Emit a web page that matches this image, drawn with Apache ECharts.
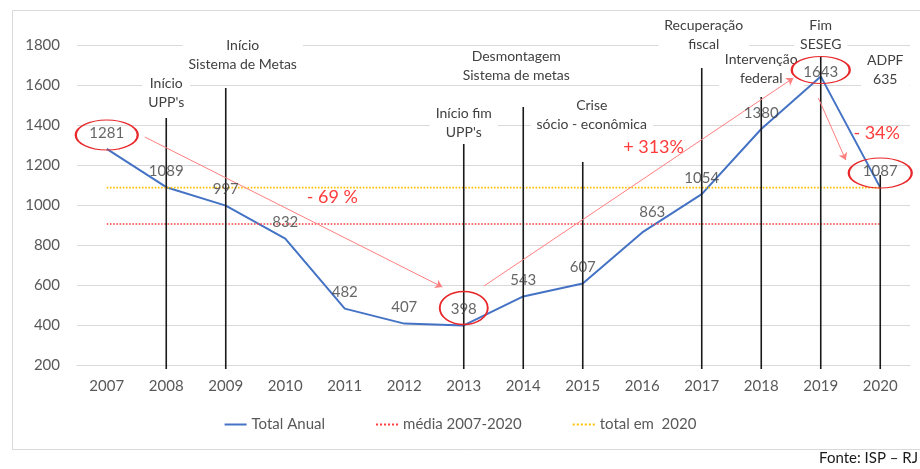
<!DOCTYPE html>
<html>
<head>
<meta charset="utf-8">
<script src="https://cdn.jsdelivr.net/npm/echarts@6/dist/echarts.min.js"></script>
<style>
  html, body { margin: 0; padding: 0; background: #fff; }
  #chart { width: 920px; height: 469px; }
</style>
</head>
<body>
<div id="chart"></div>
<script>
// dados
var anos = ['2007', '2008', '2009', '2010', '2011', '2012', '2013', '2014', '2015', '2016', '2017', '2018', '2019', '2020'];
var totalAnual = [1281, 1089, 997, 832, 482, 407, 398, 543, 607, 863, 1054, 1380, 1643, 1087];
var mediaPeriodo = 905;
var totalEm2020 = 1087;

// marcos (linhas verticais): ano, topo da linha, base do texto
var eventoAnos = ['2008', '2009', '2013', '2014', '2015', '2017', '2018', '2019', '2020'];
var eventoTopo = [1435, 1585, 1305, 1490, 1215, 1685, 1540, 1740, 1150];
var eventoTextoBase = [1465, 1655, 1315, 1600, 1355, 1755, 1585, 1755, 1580];
var eventoTextos = ["Início\nUPP's", 'Início\nSistema de Metas', "Início fim\nUPP's", 'Desmontagem\nSistema de metas',
  'Crise\nsócio - econômica', 'Recuperação\nfiscal', 'Intervenção\nfederal', 'Fim\nSESEG', 'ADPF\n635'];

// destaques em vermelho: elipses, setas e variações (x = índice do ano)
var elipses = [[0, 1350], [6, 485], [12, 1675], [13, 1160]];
var setas = [[[0.64, 1340], [5.64, 590]], [[6.34, 595], [11.54, 1635]], [[11.96, 1535], [12.42, 1225]]];
var variacoes = ['- 69 %', '+ 313%', '- 34%'];
var variacaoPos = [[3.79, 1040], [9.19, 1290], [12.94, 1360]];

var fonte = 'Lato, "Open Sans", sans-serif';
var elipseTam = [[62, 30], [48, 33], [58, 27], [63, 30]];
var eventoDx = [0, 17, 0, -7, 9, 2, 0, 0, 5];
var labelAjuste = { 9: [10, -4], 12: [0, 12] };

var chart = echarts.init(document.getElementById('chart'));

// rótulos dos valores (série só de texto)
var rotulos = totalAnual.map(function (v, i) {
  var item = { value: v };
  if (labelAjuste[i]) item.label = { offset: labelAjuste[i] };
  return item;
});

function renderEvento(params, api) {
  var i = params.dataIndex;
  var x = api.value(0);
  var topo = api.coord([x, api.value(1)]);
  var base = api.coord([x, 200]);
  var txt = api.coord([x, api.value(2)]);
  return {
    type: 'group',
    children: [
      {
        type: 'line',
        shape: { x1: topo[0], y1: topo[1], x2: base[0], y2: base[1] + 4 },
        style: { stroke: '#1a1a1a', lineWidth: 1.6 }
      },
      {
        type: 'text',
        x: txt[0] + eventoDx[i],
        y: txt[1],
        style: {
          text: eventoTextos[i],
          align: 'center',
          verticalAlign: 'bottom',
          fill: '#404040',
          font: '14px ' + fonte,
          lineHeight: 19,
          backgroundColor: '#fff',
          padding: [0, 6, 0, 6]
        }
      }
    ]
  };
}

chart.setOption({
  animation: false,
  grid: { left: 77, right: 10, top: 45, bottom: 104 },
  graphic: [
    {
      type: 'rect', left: 10, top: 8, z: -10,
      shape: { width: 915, height: 439 },
      style: { fill: 'none', stroke: '#d9d9d9', lineWidth: 1 }
    },
    {
      type: 'text', right: 2, top: 451,
      style: { text: 'Fonte: ISP – RJ', fill: '#1a1a1a', font: '15px ' + fonte }
    }
  ],
  legend: {
    data: ['Total Anual', 'média 2007-2020', 'total em  2020'],
    top: 412,
    left: 'center',
    itemWidth: 22,
    itemHeight: 12,
    itemGap: 50,
    itemStyle: { opacity: 0 },
    textStyle: { color: '#595959', fontSize: 15, fontFamily: fonte }
  },
  xAxis: [
    {
      type: 'category',
      data: anos,
      axisTick: { show: false },
      axisLine: { lineStyle: { color: '#d9d9d9' } },
      axisLabel: { color: '#595959', fontSize: 15, fontFamily: fonte, margin: 14 }
    },
    { type: 'value', min: -0.5, max: 13.5, show: false }
  ],
  yAxis: {
    type: 'value',
    min: 200,
    max: 1800,
    interval: 200,
    axisLine: { show: false },
    axisTick: { show: false },
    axisLabel: {
      color: '#595959', fontSize: 15, fontFamily: fonte, margin: 17,
      formatter: function (v) { return String(v); }
    },
    splitLine: { lineStyle: { color: '#d9d9d9', width: 1.2 } }
  },
  series: [
    {
      name: 'Total Anual',
      type: 'line',
      data: totalAnual,
      symbol: 'none',
      z: 3,
      lineStyle: { color: '#4472c4', width: 2 },
      itemStyle: { color: '#4472c4' }
    },
    {
      name: 'rotulos',
      type: 'scatter',
      data: rotulos,
      symbolSize: 1,
      z: 5,
      silent: true,
      itemStyle: { color: 'rgba(0,0,0,0)' },
      label: {
        show: true, position: 'top', distance: 8, color: '#404040', fontSize: 15, fontFamily: fonte,
        formatter: function (p) { return String(p.value); }
      }
    },
    {
      name: 'média 2007-2020',
      type: 'line',
      data: anos.map(function () { return mediaPeriodo; }),
      symbol: 'none',
      lineStyle: { color: '#ff3b3b', width: 1.6, type: 'dotted' },
      itemStyle: { color: '#ff3b3b' }
    },
    {
      name: 'total em  2020',
      type: 'line',
      data: anos.map(function () { return totalEm2020; }),
      symbol: 'none',
      lineStyle: { color: '#ffc000', width: 1.6, type: 'dotted' },
      itemStyle: { color: '#ffc000' }
    },
    {
      name: 'marcos',
      type: 'custom',
      z: 4,
      renderItem: renderEvento,
      data: eventoAnos.map(function (a, i) { return [a, eventoTopo[i], eventoTextoBase[i]]; })
    },
    {
      name: 'anotacoes',
      type: 'line',
      xAxisIndex: 1,
      data: [],
      z: 6,
      markLine: {
        silent: true,
        symbol: ['none', 'arrow'],
        symbolSize: 7,
        label: { show: false },
        lineStyle: { color: '#ff7f7f', width: 1, type: 'solid' },
        data: setas.map(function (s) { return [{ coord: s[0] }, { coord: s[1] }]; })
      },
      markPoint: {
        silent: true,
        data: elipses.map(function (p, i) {
          return {
            coord: p,
            symbol: 'circle',
            symbolSize: elipseTam[i],
            itemStyle: { color: 'rgba(0,0,0,0)', borderColor: '#e8282b', borderWidth: 1.6 },
            label: { show: false }
          };
        }).concat(variacoes.map(function (t, i) {
          return {
            name: t,
            coord: variacaoPos[i],
            symbol: 'circle',
            symbolSize: 1,
            itemStyle: { color: 'rgba(0,0,0,0)' },
            label: { show: true, position: 'inside', formatter: '{b}', color: '#ff3b3b', fontSize: 18, fontFamily: fonte }
          };
        }))
      }
    }
  ]
});
</script>
</body>
</html>
